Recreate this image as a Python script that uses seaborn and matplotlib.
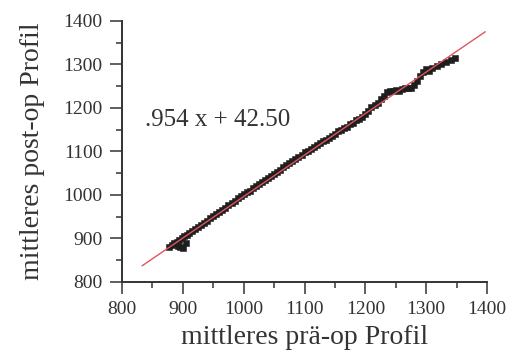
import matplotlib
matplotlib.use("Agg")
import matplotlib.pyplot as plt
import seaborn as sns
import numpy as np
import pandas as pd

# ---- data ----
pre_profile = [878, 882, 886, 890, 894, 898, 902, 906, 910, 915, 920, 925, 930, 935,
               940, 945, 950, 955, 960, 965, 970, 975, 980, 985, 990, 995, 1000, 1005,
               1010, 1015, 1020, 1025, 1030, 1035, 1040, 1045, 1050, 1055, 1060, 1065,
               1070, 1075, 1080, 1085, 1090, 1095, 1100, 1105, 1110, 1115, 1120, 1125,
               1130, 1135, 1140, 1145, 1150, 1155, 1160, 1165, 1170, 1175, 1180, 1185,
               1190, 1195, 1200, 1205, 1210, 1215, 1220, 1225, 1230, 1235, 1240, 1245,
               1250, 1255, 1260, 1265, 1270, 1275, 1280, 1285, 1290, 1295, 1300, 1305,
               1310, 1318, 1325, 1333, 1340, 1347,
               892, 895, 900, 905]
post_profile = [880, 884, 889, 893, 897, 901, 905, 908, 912, 917, 921, 927, 931, 936,
                941, 946, 951, 956, 961, 966, 971, 976, 981, 986, 992, 997, 1002, 1006,
                1010, 1015, 1021, 1025, 1031, 1034, 1040, 1044, 1049, 1053, 1058, 1064,
                1068, 1073, 1078, 1082, 1088, 1093, 1098, 1102, 1106, 1111, 1116, 1119,
                1124, 1127, 1131, 1136, 1140, 1147, 1150, 1155, 1157, 1163, 1166, 1172,
                1175, 1180, 1186, 1194, 1203, 1207, 1212, 1220, 1228, 1236, 1240, 1240,
                1241, 1240, 1243, 1246, 1245, 1247, 1252, 1262, 1274, 1283, 1289, 1286,
                1291, 1297, 1302, 1306, 1311, 1314,
                883, 880, 878, 890]

slope = 0.954
intercept = 42.50
fit_x = [833, 1397]
equation_label = ".954 x + 42.50"

x_ticks = [800, 900, 1000, 1100, 1200, 1300, 1400]
y_ticks = [800, 900, 1000, 1100, 1200, 1300, 1400]
x_label = "mittleres prä-op Profil"
y_label = "mittleres post-op Profil"

# ---- plotting ----
sns.set_theme(style="ticks")
plt.rcParams["font.family"] = ["Liberation Serif", "DejaVu Serif"]

fig = plt.figure(figsize=(5.09, 3.6), dpi=100)
ax = fig.add_axes([0.2397, 0.2167, 0.7173, 0.725])

df = pd.DataFrame({"pre": pre_profile, "post": post_profile})
sns.scatterplot(data=df, x="pre", y="post", ax=ax, marker="s", s=14,
                color="#1e1e1e", edgecolor="#1e1e1e", linewidth=0.4, zorder=2)

fit_df = pd.DataFrame({"x": fit_x, "y": [slope * v + intercept for v in fit_x]})
sns.lineplot(data=fit_df, x="x", y="y", ax=ax, color="#e2545e", linewidth=1.0, zorder=3)

ax.set_xlim(800, 1400)
ax.set_ylim(800, 1400)
ax.set_xticks(x_ticks)
ax.set_yticks(y_ticks)
ax.set_xticks([850, 950, 1050, 1150, 1250, 1350], minor=True)
ax.set_yticks([850, 950, 1050, 1150, 1250, 1350], minor=True)

sns.despine(ax=ax)
for sp in ("left", "bottom"):
    ax.spines[sp].set_linewidth(1.4)
    ax.spines[sp].set_color("#333333")

ax.tick_params(axis="both", which="major", direction="out", length=8.5, width=1.1,
               color="#333333", labelsize=14, labelcolor="#333333", pad=5.5)
ax.tick_params(axis="both", which="minor", direction="out", length=4.5, width=1.1,
               color="#333333")

ax.set_xlabel(x_label, fontsize=20, color="#333333", labelpad=5)
ax.set_ylabel(y_label, fontsize=20, color="#333333", labelpad=13)

ax.text(838, 1172, equation_label, fontsize=18, color="#333333", va="center", ha="left")

fig.savefig("out.png", dpi=100)
